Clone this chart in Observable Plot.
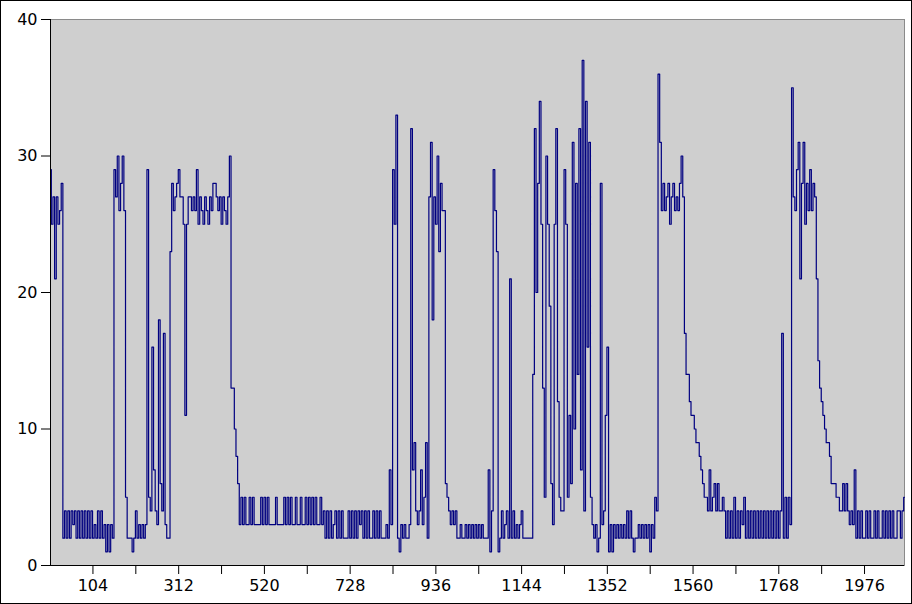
<!DOCTYPE html>
<html>
<head>
<meta charset="utf-8">
<script src="https://cdn.jsdelivr.net/npm/d3@7"></script>
<script src="https://cdn.jsdelivr.net/npm/@observablehq/plot@0.6"></script>
<style>
  html, body { margin: 0; padding: 0; background: #ffffff; }
  #chart svg { display: block; outline: 1px solid #000; outline-offset: -1px; }
</style>
</head>
<body>
<div id="chart"></div>
<script>
// Series sampled every 4 units starting at sample 1
const sampleStart = 1;
const sampleStep = 4;
const values = [
  29,25,27,21,27,25,26,28,
  2,4,2,4,2,4,3,4,2,
  4,2,4,2,4,2,4,2,4,2,3,2,4,2,4,
  2,3,1,3,1,3,2,
  29,27,30,26,28,30,26,
  5,2,
  2,2,1,2,4,2,3,2,3,2,3,
  29,5,4,16,7,4,3,
  18,6,4,17,3,2,2,
  23,28,
  26,27,28,29,27,27,25,11,25,27,27,26,27,26,
  29,25,27,26,25,27,26,25,27,26,28,28,27,26,27,25,27,26,25,27,30,
  13,13,10,8,6,
  3,5,3,5,3,3,5,3,5,3,
  3,3,3,5,3,5,3,5,3,3,
  3,3,5,3,3,3,3,5,3,5,
  3,5,3,3,5,3,3,5,3,3,
  5,3,5,3,5,3,5,3,3,5,3,
  4,2,4,2,4,2,3,4,2,4,
  2,4,2,2,2,4,2,4,2,4,
  2,4,3,4,2,4,2,4,2,2,
  4,2,4,2,4,2,2,2,
  3,2,7,3,
  29,25,33,2,
  1,3,2,3,2,2,
  3,32,
  7,9,4,3,4,7,3,5,9,2,
  27,31,
  18,27,25,30,23,28,26,26,6,
  5,4,3,4,3,4,2,2,
  3,2,2,3,2,3,2,3,2,3,2,3,2,3,2,2,
  2,7,1,4,
  29,26,23,1,
  2,4,2,3,4,2,21,
  2,4,2,3,2,3,4,2,
  2,2,2,2,2,
  14,32,20,28,34,25,13,5,30,25,19,6,3,25,32,12,5,4,4,29,25,5,11,6,31,10,
  28,14,32,7,37,4,34,16,31,
  5,3,2,3,1,2,
  28,3,4,11,16,
  1,3,1,3,2,3,2,3,2,3,2,
  4,2,4,2,
  1,2,2,3,2,3,2,3,2,3,
  1,3,2,5,4,
  36,31,26,28,26,27,28,25,27,28,26,27,26,28,30,27,
  17,14,14,12,11,11,10,9,9,8,7,6,5,5,4,
  7,4,5,6,4,6,4,4,5,4,
  2,4,2,4,2,5,2,4,2,4,
  3,5,2,4,2,4,2,4,2,4,
  2,4,2,4,2,4,2,4,2,4,
  2,4,2,4,
  17,2,5,2,5,3,
  35,27,26,29,31,21,28,31,25,28,26,29,26,28,27,
  21,15,13,12,11,10,9,9,8,6,6,6,5,5,4,4,6,4,6,4,3,4,3,7,2,
  4,2,4,2,2,4,2,4,2,2,4,2,4,2,2,4,2,4,2,4,2,4,2,2,4,4,2,4,5
];
const labelTicks = [104, 312, 520, 728, 936, 1144, 1352, 1560, 1768, 1976];
const minorTicks = [208, 416, 624, 832, 1040, 1248, 1456, 1664, 1872];
const yTicks = [0, 10, 20, 30, 40];
const xDomain = [1, 2073];
const yDomain = [0, 40];

const data = values.map((v, i) => ({x: sampleStart + i * sampleStep, y: v}));

const chart = Plot.plot({
  width: 912,
  height: 604,
  marginLeft: 50,
  marginRight: 8,
  marginTop: 19,
  marginBottom: 39,
  style: {fontFamily: "DejaVu Sans, sans-serif", fontSize: "16px", color: "#000", background: "#fff"},
  x: {domain: xDomain, label: null},
  y: {domain: yDomain, label: null},
  marks: [
    Plot.frame({fill: "#cfcfcf", stroke: "#8a8a8a"}),
    Plot.line(data, {x: "x", y: "y", stroke: "#000080", strokeWidth: 1.2, curve: "step"}),
    Plot.ruleX([xDomain[0]], {stroke: "#000"}),
    Plot.ruleY([0], {stroke: "#000"}),
    Plot.axisX({ticks: labelTicks, tickSize: 9, tickPadding: 5, fontSize: 16, tickFormat: d => String(d), label: null}),
    Plot.axisX({ticks: minorTicks, tickSize: 9, tickFormat: () => "", label: null}),
    Plot.axisY({ticks: yTicks, tickSize: 9, tickPadding: 4, fontSize: 16, tickFormat: d => String(d), label: null})
  ]
});
document.getElementById("chart").appendChild(chart);
</script>
</body>
</html>
